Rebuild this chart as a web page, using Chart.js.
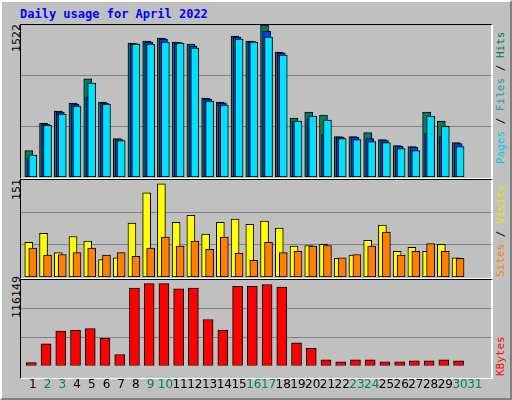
<!DOCTYPE html>
<html><head><meta charset="utf-8">
<script src="https://cdn.jsdelivr.net/npm/chart.js@4/dist/chart.umd.min.js"></script>
<style>
body{margin:0;background:#fff}
#frame{position:absolute;left:0;top:0;width:508px;height:396px;background:#c0c0c0;border-top:2px solid #fff;border-left:2px solid #fff;border-right:2px solid #808080;border-bottom:2px solid #808080}
.panel{position:absolute;left:20px;width:470px;border-top:1px solid #000;border-left:1px solid #000;border-right:2px solid #fff;border-bottom:1px solid #fff}
canvas{position:absolute}
.t{position:absolute;font:bold 12px "DejaVu Sans Mono",monospace;color:#0000ff}
.v{position:absolute;transform-origin:0 0;transform:rotate(-90deg);font:11px "DejaVu Sans",sans-serif;white-space:nowrap}
.r{position:absolute;transform-origin:0 0;transform:rotate(-90deg);font:11px "DejaVu Sans Mono",monospace;white-space:nowrap}
</style></head><body>
<div id="frame"></div>
<div class="t" style="left:20px;top:7px">Daily usage for April 2022</div>
<div class="panel" style="top:24px;height:153px"></div>
<div class="panel" style="top:179px;height:98px"></div>
<div class="panel" style="top:279px;height:98px"></div>
<div class="v" style="left:10px;top:52px">1522</div>
<div class="v" style="left:10px;top:200px">151</div>
<div class="v" style="left:10px;top:318px">116149</div>
<div class="r" style="left:494px;top:164px"><span style="color:#00c8e8">Pages</span> / <span style="color:#2a9a9a">Files</span> / <span style="color:#008060">Hits</span></div>
<div class="r" style="left:494px;top:277px"><span style="color:#ff8000">Sites</span> / <span style="color:#e8e800">Visits</span></div>
<div class="r" style="left:494px;top:376px"><span style="color:#ff0000">KBytes</span></div>
<canvas id="c1" style="left:21px;top:25px;width:470px;height:152px" width="470" height="152"></canvas>
<canvas id="c2" style="left:21px;top:180px;width:470px;height:97px" width="470" height="97"></canvas>
<canvas id="c3" style="left:21px;top:280px;width:470px;height:116px" width="470" height="116"></canvas>
<script>
const days = Array.from({length: 31}, (_, i) => i + 1);
const weekend = [2, 3, 9, 10, 16, 17, 23, 24, 30, 31];
const hits = [264,538,660,740,984,750,385,1340,1360,1390,1350,1330,790,750,1410,1360,1522,1250,590,650,620,405,405,445,375,315,305,650,560,345];
const files = [190,530,650,730,800,740,375,1335,1350,1380,1345,1310,780,740,1400,1355,1460,1240,560,580,425,400,400,385,365,310,300,435,405,335];
const pages = [220,518,630,710,940,730,365,1330,1330,1350,1340,1290,760,720,1380,1350,1400,1220,560,610,570,385,375,355,345,285,264,610,507,305];
const visits = [54,68,38,63,56,27,30,84,131,145,85,96,67,85,90,82,87,76,48,49,51,29,34,57,81,40,46,40,51,30];
const sites = [45,34,35,38,45,34,38,32,45,62,48,56,43,62,37,26,54,38,40,48,49,30,35,48,70,34,40,52,40,29];
const kbytes = [4060,29650,46700,47900,50360,36950,15030,105200,111300,111300,104000,105200,62540,47900,107600,107600,110100,106400,30860,23550,7720,5280,7720,7720,5280,5280,6500,6500,7720,6500];

const pts = (arr, off) => arr.map((v, i) => ({x: i + 1 + off, y: v}));
// ordem: o primeiro dataset fica por cima
const bar = (data, color, w) => ({data, backgroundColor: color, borderColor: '#000', borderWidth: 1, borderSkipped: false, barThickness: w, grouped: false});

function opts(max, showX) {
    return {
        responsive: false, animation: false,
        layout: {padding: 0},
        plugins: {legend: {display: false}, tooltip: {enabled: false}},
        scales: {
            x: {type: 'linear', offset: false, min: 0.2, max: 32.1, grid: {display: false}, border: {display: false},
                display: showX,
                afterBuildTicks: s => { s.ticks = days.map(d => ({value: d})); },
                ticks: {autoSkip: false, maxRotation: 0, padding: 4,
                    font: {family: 'DejaVu Sans', size: 12},
                    color: c => weekend.includes(c.tick.value) ? '#008060' : '#000',
                    callback: v => v}},
            y: {min: 0, max, grid: {color: '#808080', drawTicks: false}, border: {display: false},
                afterBuildTicks: s => { s.ticks = [max / 3, 2 * max / 3].map(v => ({value: v})); },
                ticks: {display: false}, afterFit: s => { s.width = 0; }}
        }
    };
}

new Chart(document.getElementById('c1'), {type: 'bar',
    data: {datasets: [bar(pts(pages, 0), '#00e0ff', 8), bar(pts(files, -0.13), '#0040ff', 8), bar(pts(hits, -0.27), '#008060', 8)]},
    options: opts(1522, false)});
new Chart(document.getElementById('c2'), {type: 'bar',
    data: {datasets: [bar(pts(sites, 0), '#ff8000', 8), bar(pts(visits, -0.27), '#ffff00', 8)]},
    options: opts(151, false)});
new Chart(document.getElementById('c3'), {type: 'bar',
    data: {datasets: [bar(pts(kbytes, -0.1), '#ff0000', 10)]},
    options: opts(116149, true)});
</script>
</body></html>
